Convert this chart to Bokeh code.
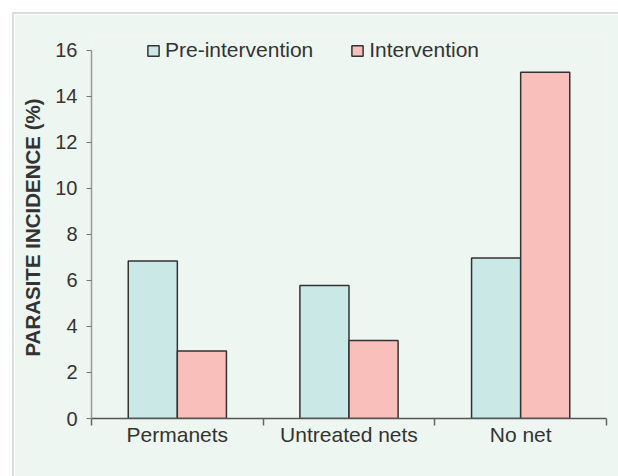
import numpy as np
from bokeh.plotting import figure
from bokeh.models import ColumnDataSource, FixedTicker, Legend, LegendItem, Range1d, Spacer
from bokeh.layouts import row, column
from bokeh.transform import dodge
from bokeh.embed import file_html
from bokeh.resources import INLINE

categories = ["Permanets", "Untreated nets", "No net"]
pre_intervention = [6.84, 5.78, 6.97]
intervention = [2.93, 3.39, 15.05]
y_ticks = [0, 2, 4, 6, 8, 10, 12, 14, 16]
series_names = ["Pre-intervention", "Intervention"]

BG = "#EEF6F2"
PRE_C = "#C9E8E6"
INT_C = "#F9BFBA"
TXT = "#333333"
EDGE = "#D9DDDB"
FONT = "Liberation Sans"

idx = np.arange(len(categories))
bw = 0.286
src = ColumnDataSource(dict(
    xc=idx + 0.5,
    pre=pre_intervention,
    inter=intervention,
))

p = figure(width=604, height=462, output_backend="svg", toolbar_location=None,
           x_range=Range1d(0, len(categories)), y_range=Range1d(0, 16.6),
           min_border_left=77, min_border_right=12, min_border_top=22, min_border_bottom=58,
           background_fill_color=BG, border_fill_color=BG)
p.outline_line_color = None
p.grid.visible = False

r1 = p.vbar(x=dodge("xc", -bw / 2), top="pre", width=bw, source=src,
            fill_color=PRE_C, line_color="#333333", line_width=1.5)
r2 = p.vbar(x=dodge("xc", bw / 2), top="inter", width=bw, source=src,
            fill_color=INT_C, line_color="#333333", line_width=1.5)

# x axis
xa = p.xaxis[0]
xa.ticker = FixedTicker(ticks=list(idx + 0.5), minor_ticks=list(range(len(categories) + 1)))
xa.major_label_overrides = {float(i + 0.5): c for i, c in enumerate(categories)}
xa.major_tick_line_color = None
xa.major_tick_out = 0
xa.major_tick_in = 0
xa.minor_tick_line_color = "#666666"
xa.minor_tick_line_width = 1.5
xa.minor_tick_out = 7
xa.minor_tick_in = 0
xa.axis_line_color = "#555555"
xa.axis_line_width = 1.5
xa.major_label_standoff = -3
xa.major_label_text_font = FONT
xa.major_label_text_font_size = "21px"
xa.major_label_text_color = TXT

# y axis
ya = p.yaxis[0]
ya.ticker = FixedTicker(ticks=y_ticks)
ya.bounds = (0, 16)
ya.minor_tick_line_color = None
ya.major_tick_out = 5
ya.major_tick_in = 0
ya.major_tick_line_color = "#777777"
ya.axis_line_color = "#999999"
ya.axis_line_width = 1.5
ya.major_label_standoff = 9
ya.major_label_text_font = FONT
ya.major_label_text_font_size = "20px"
ya.major_label_text_color = TXT
ya.axis_label = "PARASITE INCIDENCE (%)"
ya.axis_label_text_font = FONT
ya.axis_label_text_font_size = "20.5px"
ya.axis_label_text_font_style = "bold"
ya.axis_label_text_color = TXT
ya.axis_label_standoff = 8

legend = Legend(items=[LegendItem(label=series_names[0], renderers=[r1]),
                       LegendItem(label=series_names[1], renderers=[r2])],
                orientation="horizontal", location=(55, 356),
                background_fill_alpha=0, border_line_color=None,
                glyph_width=14, glyph_height=13, label_standoff=5, spacing=37,
                padding=0, margin=0,
                label_text_font=FONT, label_text_font_size="21px", label_text_color=TXT)
p.add_layout(legend)

edge_left = Spacer(width=2, height=464, styles={"background-color": EDGE})
edge_top = Spacer(width=606, height=2, styles={"background-color": EDGE})
layout = row(Spacer(width=12, height=476),
             column(Spacer(width=606, height=12), edge_top,
                    row(edge_left, p)))

open("out.html", "w").write(file_html(layout, INLINE))
